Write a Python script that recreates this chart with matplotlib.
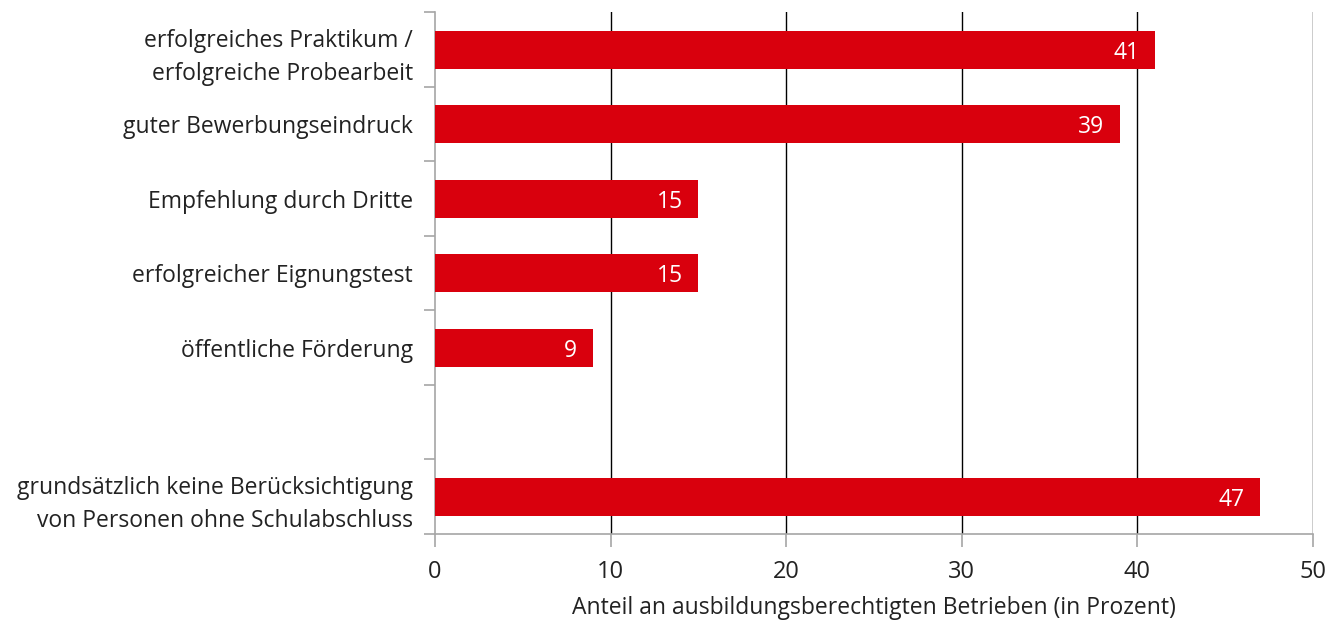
import matplotlib
matplotlib.use("Agg")
import matplotlib.pyplot as plt
import numpy as np

categories = [
    "erfolgreiches Praktikum /\nerfolgreiche Probearbeit",
    "guter Bewerbungseindruck",
    "Empfehlung durch Dritte",
    "erfolgreicher Eignungstest",
    "öffentliche Förderung",
    "",
    "grundsätzlich keine Berücksichtigung\nvon Personen ohne Schulabschluss",
]
values = [41, 39, 15, 15, 9, None, 47]
xticks = [0, 10, 20, 30, 40, 50]
xlabel = "Anteil an ausbildungsberechtigten Betrieben (in Prozent)"

plt.rcParams['font.family'] = ['Open Sans', 'DejaVu Sans']
fig = plt.figure(figsize=(13.31, 6.23), dpi=100)
ax = fig.add_axes([435/1331, 1-534/623, (1313-435)/1331, (534-12.5)/623])

red = "#D9000D"
n = len(categories)
ypos = np.arange(n)
for y, v in zip(ypos, values):
    if v is None:
        continue
    ax.barh(y, v, height=0.505, color=red, zorder=3)
    ax.text(v - 0.9, y, str(v), ha='right', va='center_baseline', color='white',
            fontsize=16.5, zorder=4)

ax.set_ylim(n - 0.5, -0.5)
ax.set_xlim(0, 50)
ax.set_yticks(ypos)
ax.set_yticklabels(categories, fontsize=16.5, color='#222222', linespacing=1.5)
ax.tick_params(axis='y', length=0, pad=16)
ax.set_yticks(np.arange(-0.5, n, 1), minor=True)
ax.tick_params(axis='y', which='minor', length=8, color='#A6A6A6', width=1.2)

ax.set_xticks(xticks)
ax.set_xticklabels([str(t) for t in xticks], fontsize=17, color='#222222')
ax.tick_params(axis='x', length=9, color='#A6A6A6', width=1.2, pad=10)
ax.set_xlabel(xlabel, fontsize=16.5, color='#222222', labelpad=8)

for t in xticks[1:]:
    ax.axvline(t, color='black', lw=1.0, zorder=1)

for s in ['top', 'right']:
    ax.spines[s].set_visible(False)
for s in ['left', 'bottom']:
    ax.spines[s].set_color('#A6A6A6')
    ax.spines[s].set_linewidth(1.2)

fig.savefig("out.png", dpi=100)
